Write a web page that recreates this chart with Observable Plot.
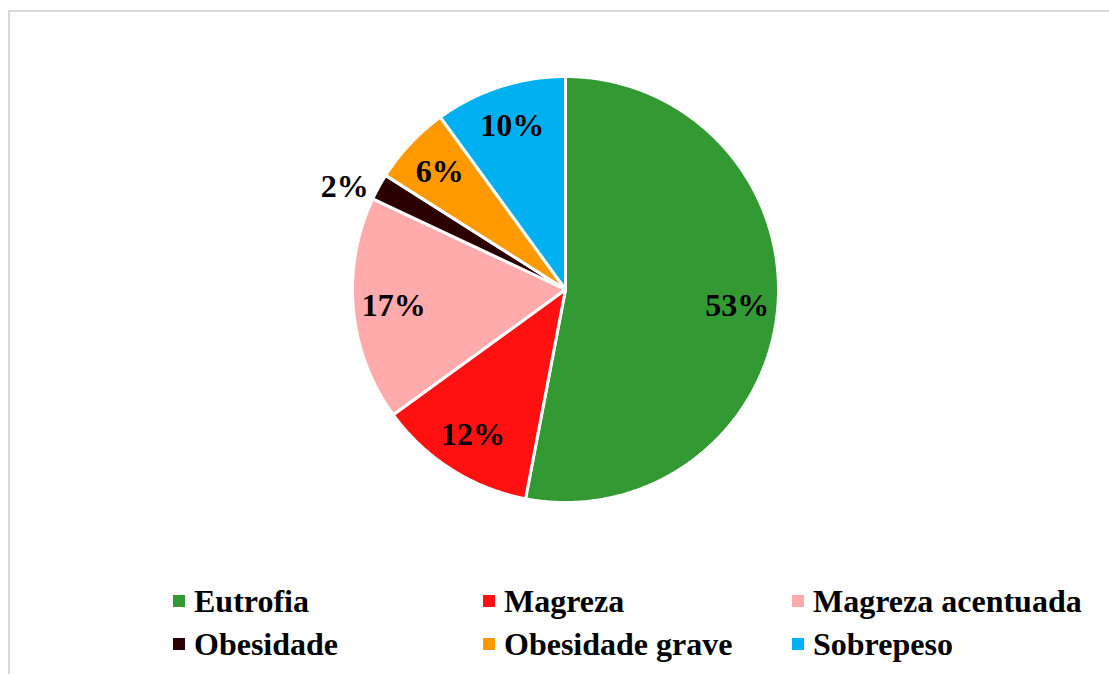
<!DOCTYPE html>
<html>
<head>
<meta charset="utf-8">
<script src="https://cdn.jsdelivr.net/npm/d3@7"></script>
<script src="https://cdn.jsdelivr.net/npm/@observablehq/plot@0.6"></script>
<style>
  html, body { margin: 0; padding: 0; background: #fff; }
  body { width: 1109px; height: 674px; position: relative; overflow: hidden;
         font-family: "Liberation Serif", "Times New Roman", serif; }
  #frame { position: absolute; left: 8px; top: 10px; width: 1110px; height: 700px;
           border: 2px solid #d9d9d9; box-sizing: border-box; }
  #chart { position: absolute; left: 0; top: 0; }
  .item { position: absolute; height: 38px; display: flex; align-items: center;
          font-weight: bold; font-size: 32px; line-height: 38px; color: #000; white-space: nowrap; }
  .sw { width: 12px; height: 12px; margin-right: 9px; flex: none; }
</style>
</head>
<body>
<div id="frame"></div>
<div id="chart"></div>
<div id="legend"></div>
<script>
const categories = ["Eutrofia", "Magreza", "Magreza acentuada", "Obesidade", "Obesidade grave", "Sobrepeso"];
const percents = [53, 12, 17, 2, 6, 10];
const colors = ["#339933", "#ff1111", "#ffabab", "#2b0000", "#ff9900", "#00b0f0"];
const labels = ["53%", "12%", "17%", "2%", "6%", "10%"];

const W = 1109, H = 674;
const R = 213, cx = 565, cy = 289;

const data = categories.map((c, i) => ({name: c, value: percents[i], label: labels[i]}));
const arcs = d3.pie().value(d => d.value).sort(null)(data);

// polygon points for each wedge (center -> arc -> center), unit radius
const wedgePts = [];
arcs.forEach(a => {
  const n = Math.max(2, Math.ceil((a.endAngle - a.startAngle) / (Math.PI / 360)));
  wedgePts.push({name: a.data.name, x: 0, y: 0});
  for (let k = 0; k <= n; k++) {
    const t = a.startAngle + (a.endAngle - a.startAngle) * k / n;
    wedgePts.push({name: a.data.name, x: Math.sin(t), y: Math.cos(t)});
  }
  wedgePts.push({name: a.data.name, x: 0, y: 0});
});

const inside = [], outside = [];
arcs.forEach(a => {
  const mid = (a.startAngle + a.endAngle) / 2;
  if (a.data.value < 4) {
    outside.push({label: a.data.label, x: Math.sin(mid), y: Math.cos(mid)});
  } else {
    const r = 0.81;
    inside.push({label: a.data.label, x: r * Math.sin(mid), y: r * Math.cos(mid)});
  }
});

const font = "'Liberation Serif', 'Times New Roman', serif";
const chart = Plot.plot({
  width: W, height: H,
  marginTop: 0, marginRight: 0, marginBottom: 0, marginLeft: 0,
  x: {domain: [-cx / R, (W - cx) / R], axis: null},
  y: {domain: [-(H - cy) / R, cy / R], axis: null},
  color: {domain: categories, range: colors},
  style: {fontFamily: font, background: "transparent"},
  marks: [
    Plot.line(wedgePts, {x: "x", y: "y", z: "name", fill: "name", stroke: "white", strokeWidth: 3, strokeLinejoin: "miter", curve: "linear"}),
    Plot.text(inside, {x: "x", y: "y", text: "label", fontSize: 32, fontWeight: "bold", fill: "black", fontFamily: font}),
    Plot.text(outside, {x: "x", y: "y", text: "label", fontSize: 32, fontWeight: "bold", fill: "black", fontFamily: font, textAnchor: "end", dx: -10})
  ]
});
document.getElementById("chart").appendChild(chart);

// legend
const cols = [173, 483, 792];
const rows = [601, 644];
const legend = document.getElementById("legend");
categories.forEach((c, i) => {
  const el = document.createElement("div");
  el.className = "item";
  el.style.left = cols[i % 3] + "px";
  el.style.top = (rows[Math.floor(i / 3)] - 19) + "px";
  const sw = document.createElement("span");
  sw.className = "sw";
  sw.style.background = colors[i];
  const tx = document.createElement("span");
  tx.textContent = c;
  el.appendChild(sw);
  el.appendChild(tx);
  legend.appendChild(el);
});
</script>
</body>
</html>
